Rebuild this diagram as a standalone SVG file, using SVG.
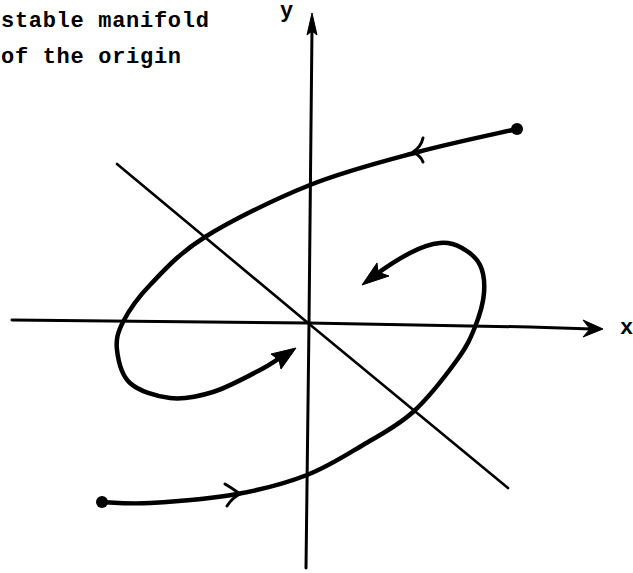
<svg xmlns="http://www.w3.org/2000/svg" width="633" height="573" viewBox="0 0 633 573">
<style>
.ax{fill:none;stroke:#000;stroke-width:3;stroke-linecap:round;stroke-linejoin:round}
.tr{fill:none;stroke:#000;stroke-width:4.5;stroke-linecap:round;stroke-linejoin:round}
.bar{fill:none;stroke:#000;stroke-width:3;stroke-linecap:round}
.head{fill:#000;stroke:#000;stroke-width:1;stroke-linejoin:round}
.lbl{font-family:"Liberation Mono","DejaVu Sans Mono",monospace;font-weight:bold;font-size:22px;letter-spacing:0.7px;fill:#000}
</style>
<rect width="633" height="573" fill="#fff"/>
<g id="connectors">
  <g id="x-axis">
    <path class="ax" d="M12,320 L308,323 L530,327 L592,329"/>
    <polygon class="head" points="603,329 583,320 590,329 583,337"/>
  </g>
  <g id="y-axis">
    <path class="ax" d="M312,28 L309,323 L306,568"/>
    <polygon class="head" points="312,13 317,35 312,31 307,35"/>
  </g>
  <g id="stable-manifold-line">
    <path class="ax" style="stroke-width:2.6" d="M117,164 L308,323 L508,488"/>
  </g>
  <g id="trajectory-upper">
    <path class="tr" d="M517,129 C500.5,132.8 452.5,142.7 418,152 C383.5,161.3 345.5,170.8 310,185 C274.5,199.2 231.7,220.3 205,237 C178.3,253.7 163.7,270.8 150,285 C136.3,299.2 128.5,311.2 123,322 C117.5,332.8 115.8,339.8 117,350 C118.2,360.2 121.2,375 130,383 C138.8,391 156.2,396.5 170,398 C183.8,399.5 198,396.7 213,392 C228,387.3 246.7,377 260,370 C273.3,363 282,356 286,354"/>
    <path class="bar" d="M413,152 Q421,147 423,138 M413,152 Q421,156 423,162"/>
    <polygon class="head" points="296,348 271,354 279,360 281,369"/>
  </g>
  <g id="trajectory-lower">
    <path class="tr" d="M102,502 C110,502.2 127.5,504.3 150,503 C172.5,501.7 210.8,498.7 237,494 C263.2,489.3 286,483.2 307,475 C328,466.8 345.3,455.5 363,445 C380.7,434.5 397.3,426.2 413,412 C428.7,397.8 446.7,374.2 457,360 C467.3,345.8 470.5,338.2 475,327 C479.5,315.8 483.2,303.3 484,293 C484.8,282.7 483.7,272.5 480,265 C476.3,257.5 468.7,251.7 462,248 C455.3,244.3 448.7,242.2 440,243 C431.3,243.8 422.5,246.5 410,253 C397.5,259.5 382,270 374,276"/>
    <path class="bar" d="M240,494 Q232,488 225,484 M240,494 Q232,498 227,506"/>
    <polygon class="head" points="362,285 377,263 378,272 389,276"/>
  </g>
</g>
<g id="node-start-upper"><circle cx="517" cy="129" r="6" fill="#000"/></g>
<g id="node-start-lower"><circle cx="102" cy="502" r="6" fill="#000"/></g>
<g id="labels">
  <text class="lbl" x="1" y="27">stable manifold</text>
  <text class="lbl" x="1" y="63">of the origin</text>
  <text class="lbl" x="280" y="17">y</text>
  <text class="lbl" x="620" y="334">x</text>
</g>
</svg>
